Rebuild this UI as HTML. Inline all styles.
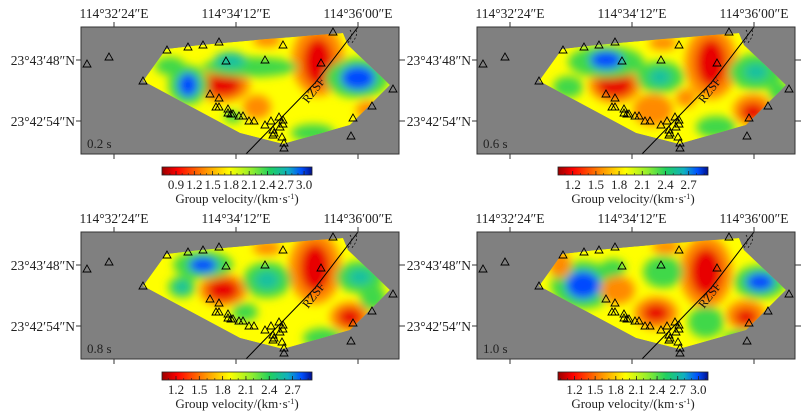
<!DOCTYPE html>
<html><head><meta charset="utf-8"><style>
html,body{margin:0;padding:0;background:#fff;}
svg{display:block;font-family:"Liberation Serif",serif;}
</style></head><body>
<svg id="chart" width="806" height="415" viewBox="0 0 806 415" xmlns="http://www.w3.org/2000/svg">
<defs>
<filter id="blur" x="-50%" y="-50%" width="200%" height="200%"><feGaussianBlur stdDeviation="4.5"/></filter>
<clipPath id="poly"><polygon points="143,81 166,49 200,45 267,39 343,33 348,45 390,85 350,125 283,144 240,133"/></clipPath>
<linearGradient id="jet" x1="0" x2="1" y1="0" y2="0">
<stop offset="0" stop-color="#9a0000"/><stop offset="0.1" stop-color="#ff0000"/><stop offset="0.3" stop-color="#ff9900"/>
<stop offset="0.45" stop-color="#ffff00"/><stop offset="0.6" stop-color="#90ee30"/><stop offset="0.72" stop-color="#20d060"/>
<stop offset="0.84" stop-color="#10b0c0"/><stop offset="0.93" stop-color="#0050ff"/><stop offset="1" stop-color="#001090"/>
</linearGradient>
</defs>
</svg>
<script>
const periods = ['0.2 s','0.6 s','0.8 s','1.0 s'];
const lonLabels = ['114°32′24″E','114°34′12″E','114°36′00″E'];
const latLabels = ['23°43′48″N','23°42′54″N'];
const cbarTicks0 = [0.9,1.2,1.5,1.8,2.1,2.4,2.7,3.0];
const cbarTicks1 = [1.2,1.5,1.8,2.1,2.4,2.7];
const cbarTicks2 = [1.2,1.5,1.8,2.1,2.4,2.7];
const cbarTicks3 = [1.2,1.5,1.8,2.1,2.4,2.7,3.0];
const cbarTicks = [cbarTicks0,cbarTicks1,cbarTicks2,cbarTicks3];
const cbarMin = [0.67,1.01,1.02,0.96];
const cbarMax = [3.13,2.95,2.95,3.14];
const stations = [[87,64],[109,57],[143,81],[167,50],[188,47],[203,45],[219,42],[226,61],[265,60],[283,45],[333,32],[321,63],[393,89],[372,106],[353,118],[351,136],[210,94],[219,98],[216,107],[219,107],[228,109],[228,113],[231,114],[233,114],[239,116],[243,116],[249,121],[254,121],[265,125],[271,121],[273,130],[274,133],[273,135],[280,127],[283,120],[283,124],[282,137],[284,143],[284,148],[279,117]];
const R='#e80000',O='#ff8a00',G='#40d848',C='#18c0a0',B='#0048ff';
const blobs0 = [[318,60,26,36,O],[318,62,15,24,R],[223,85,27,17,O],[223,85,18,11,R],[357,78,32,20,G],[358,78,17,12,B],[188,85,20,20,G],[188,85,10,12,B],[250,67,48,10,G],[230,60,16,8,C],[257,107,14,12,O],[267,40,14,7,O],[368,110,12,9,O],[313,133,22,9,G],[233,117,9,6,G],[170,66,15,9,G]];
const blobs1 = [[315,63,26,36,O],[315,63,15,24,R],[219,85,26,18,O],[219,85,18,12,R],[210,62,38,16,G],[210,60,16,9,B],[360,72,27,18,G],[360,72,12,8,C],[264,77,24,16,G],[264,77,11,8,C],[257,110,20,16,O],[357,110,20,16,O],[357,112,12,9,R],[320,127,20,11,G],[172,87,15,11,G],[267,43,14,7,O],[384,93,11,11,G],[290,98,10,9,O]];
const blobs2 = [[315,63,26,36,O],[315,63,15,24,R],[223,85,24,16,O],[223,85,16,11,R],[203,60,30,14,G],[203,60,14,8,B],[182,82,14,11,G],[182,82,7,7,C],[267,75,24,18,G],[267,75,12,9,C],[360,72,24,16,G],[360,72,12,8,C],[350,112,20,15,O],[350,112,12,9,R],[267,43,14,7,O],[323,133,20,10,G],[373,93,13,13,G],[245,107,13,9,G]];
const blobs3 = [[310,67,26,36,O],[310,67,16,24,R],[187,80,32,24,G],[187,80,17,14,B],[164,60,11,13,O],[222,85,17,14,O],[260,108,22,16,O],[260,108,13,9,R],[267,67,20,16,G],[364,77,26,17,G],[364,77,14,9,B],[350,110,20,15,O],[350,112,11,8,R],[310,117,18,16,G],[344,133,16,8,G],[270,42,14,7,O],[217,63,13,9,G]];
const blobSets = [blobs0,blobs1,blobs2,blobs3];
const origins = [[0,0],[396,0],[0,205],[396,205]];
const NS='http://www.w3.org/2000/svg';
const svg=document.getElementById('chart');
function mk(tag,attrs,parent){const e=document.createElementNS(NS,tag);for(const k in attrs)e.setAttribute(k,attrs[k]);(parent||svg).appendChild(e);return e;}
const lonX=[114,236,358], latY=[60,121];
for(let p=0;p<4;p++){
  const [ox,oy]=origins[p];
  const g=mk('g',{transform:`translate(${ox},${oy})`});
  
  
  const fr=mk('rect',{x:81,y:27,width:318,height:127,fill:'#808080'},g);
  
  
  const field=mk('g',{'clip-path':'url(#poly)'},g);
  
  
  mk('polygon',{points:'143,81 166,49 200,45 267,39 343,33 348,45 390,85 350,125 283,144 240,133',fill:'#ffff00'},field);
  const bg=mk('g',{filter:'url(#blur)'},field);
  blobSets[p].forEach(b=>{
    const el=mk('ellipse',{cx:b[0],cy:b[1],rx:b[2],ry:b[3],fill:b[4]},bg);
    
    
  });
  const fault=mk('polyline',{points:'246,154 315,83 358,27',fill:'none',stroke:'#000','stroke-width':1},g);
  
  
  mk('path',{d:'M350,30 C354,36 350,40 347,44 M356,30 C358,36 354,40 351,44',fill:'none',stroke:'#000','stroke-width':0.7,'stroke-dasharray':'2,2'},g);
  const fl=mk('text',{x:0,y:0,'font-size':12,fill:'#111',transform:'translate(308,104) rotate(-52)'},g);
  fl.textContent='RZSF';
  
  
  stations.forEach(s=>{
    const t=mk('polygon',{points:`${s[0]},${s[1]-4} ${s[0]-4},${s[1]+3} ${s[0]+4},${s[1]+3}`,fill:'none',stroke:'#000','stroke-width':0.9},g);
    
    
  });
  const border=mk('rect',{x:81,y:27,width:318,height:127,fill:'none',stroke:'#333','stroke-width':1},g);
  
  
  lonX.forEach((x,i)=>{
    mk('line',{x1:x,y1:22,x2:x,y2:27,stroke:'#333'},g);
    mk('line',{x1:x,y1:154,x2:x,y2:159,stroke:'#333'},g);
    const t=mk('text',{x:x,y:18,'text-anchor':'middle','font-size':13.5,fill:'#222'},g);
    t.textContent=lonLabels[i];
    
    
  });
  latY.forEach((y,i)=>{
    mk('line',{x1:76,y1:y,x2:81,y2:y,stroke:'#333'},g);
    mk('line',{x1:399,y1:y,x2:405,y2:y,stroke:'#333'},g);
    const t=mk('text',{x:75,y:y+5,'text-anchor':'end','font-size':13.5,fill:'#222'},g);
    t.textContent=latLabels[i];
    
    
  });
  const pl=mk('text',{x:87,y:148,'font-size':13,fill:'#222'},g);
  pl.textContent=periods[p];
  
  
  const cx0=162,cx1=312,cy=167,ch=8;
  const cb=mk('rect',{x:cx0,y:cy,width:cx1-cx0,height:ch,fill:'url(#jet)',stroke:'#222','stroke-width':0.8},g);
  
  
  const sx=v=>cx0+(v-cbarMin[p])/(cbarMax[p]-cbarMin[p])*(cx1-cx0);
  for(let v=Math.ceil(cbarMin[p]*10)/10; v<=cbarMax[p]; v+=0.1){
    const x=sx(v);mk('line',{x1:x,y1:cy+ch,x2:x,y2:cy+ch-2,stroke:'#222','stroke-width':0.6},g);
  }
  cbarTicks[p].forEach(v=>{
    const x=sx(v);
    mk('line',{x1:x,y1:cy+ch,x2:x,y2:cy+ch-4,stroke:'#222','stroke-width':0.8},g);
    const t=mk('text',{x:x,y:189,'text-anchor':'middle','font-size':13,fill:'#222'},g);
    t.textContent=v.toFixed(1);
    
    
  });
  const ct=mk('text',{x:237,y:203,'text-anchor':'middle','font-size':13,fill:'#222'},g);
  ct.innerHTML='Group velocity/(km·s<tspan dy="-4" font-size="8">-1</tspan><tspan dy="4">)</tspan>';
  
  
}
</script>
</body></html>
